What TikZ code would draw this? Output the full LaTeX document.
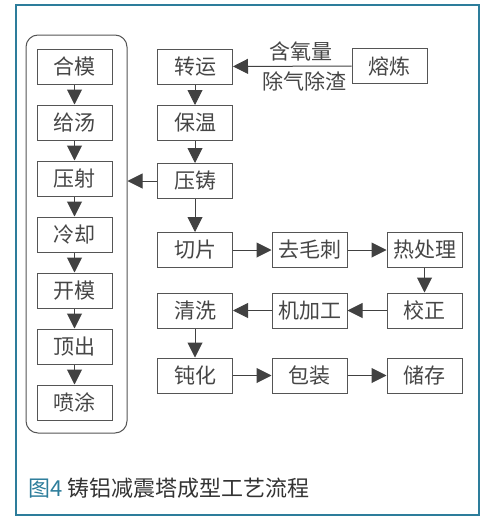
\documentclass[tikz,border=0pt]{standalone}
\usepackage{fontspec}
\usepackage{tikz}
\usetikzlibrary{arrows.meta}
\newfontfamily\cjk{Noto Sans CJK SC}
\definecolor{framecol}{RGB}{45,125,155}
\definecolor{linegray}{RGB}{85,85,85}
\definecolor{arrgray}{RGB}{65,65,65}
\definecolor{txtgray}{RGB}{70,70,70}

\tikzset{
  stepbox/.style = {draw=linegray, line width=1pt, minimum width=75pt, minimum height=35pt,
                    inner sep=0pt, text=txtgray, font=\cjk\fontsize{21}{21}\selectfont},
  arr/.style = {draw=arrgray, line width=1pt, -{Triangle[length=15pt,width=15pt]}},
  lbl/.style = {text=txtgray, font=\cjk\fontsize{21}{21}\selectfont}
}

\begin{document}
\begin{tikzpicture}[x=1pt,y=-1pt]
\useasboundingbox (0,0) rectangle (500,530);
\draw[framecol, line width=1.5pt] (16,5) rectangle (479,515);

% die casting cell
\node[draw=linegray, line width=1pt, rounded corners=12pt, minimum width=101pt, minimum height=398pt,
      inner sep=0pt] (cell) at (76.5,234) {};
\foreach \name/\txt [count=\i from 0] in {hemo/合模, geitang/给汤, yashe/压射, lengque/冷却,
                                          kaimo/开模, dingchu/顶出, pentu/喷涂}
  \node[stepbox] (\name) at (74.5,66.5+56*\i) {\txt};
\draw[arr] (hemo) -- (geitang);
\draw[arr] (geitang) -- (yashe);
\draw[arr] (yashe) -- (lengque);
\draw[arr] (lengque) -- (kaimo);
\draw[arr] (kaimo) -- (dingchu);
\draw[arr] (dingchu) -- (pentu);

% main flow
\node[stepbox] (zhuanyun) at (195,66.5) {转运};
\node[stepbox] (baowen) at (195,123) {保温};
\node[stepbox] (yazhu) at (195,181) {压铸};
\node[stepbox] (qiepian) at (195,250) {切片};
\node[stepbox] (qumaoci) at (309.5,250) {去毛刺};
\node[stepbox] (rechuli) at (424.5,250) {热处理};
\node[stepbox] (jiaozheng) at (424.5,310.5) {校正};
\node[stepbox] (jijiagong) at (309.5,310.5) {机加工};
\node[stepbox] (qingxi) at (195,310.5) {清洗};
\node[stepbox] (dunhua) at (195,375.5) {钝化};
\node[stepbox] (baozhuang) at (309.5,375.5) {包装};
\node[stepbox] (chucun) at (424.5,375.5) {储存};
\node[stepbox] (ronglian) at (389.5,66) {熔炼};

\draw[arr] (ronglian) -- (zhuanyun)
  node[lbl, pos=0.43, above=1pt] {含氧量}
  node[lbl, pos=0.40, below=2pt] {除气除渣};
\draw[arr] (zhuanyun) -- (baowen);
\draw[arr] (baowen) -- (yazhu);
\draw[arr] (yazhu.west) -- (yazhu.west -| cell.east);
\draw[arr] (yazhu) -- (qiepian);
\draw[arr] (qiepian) -- (qumaoci);
\draw[arr] (qumaoci) -- (rechuli);
\draw[arr] (rechuli) -- (jiaozheng);
\draw[arr] (jiaozheng) -- (jijiagong);
\draw[arr] (jijiagong) -- (qingxi);
\draw[arr] (qingxi) -- (dunhua);
\draw[arr] (dunhua) -- (baozhuang);
\draw[arr] (baozhuang) -- (chucun);

\node[anchor=west, inner sep=0pt, font=\cjk\fontsize{22}{22}\selectfont, text=black!80] (caption) at (28,488)
  {\textcolor{framecol}{图4} 铸铝减震塔成型工艺流程};
\end{tikzpicture}
\end{document}
